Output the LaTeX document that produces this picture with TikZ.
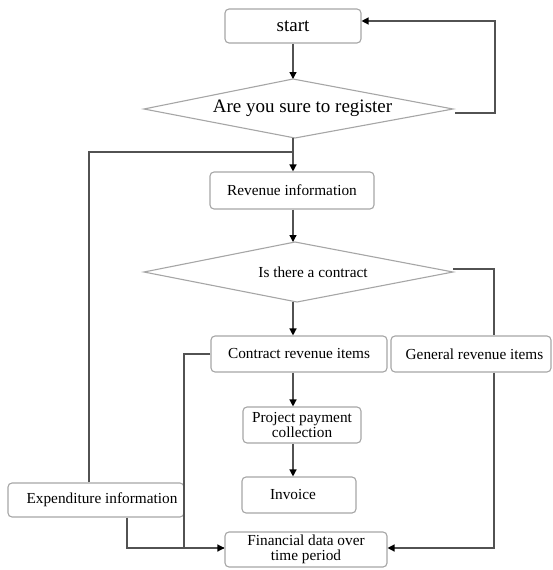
\documentclass[tikz,border=0pt]{standalone}
\usepackage{fontspec}
\setmainfont{Liberation Serif}
\usetikzlibrary{arrows.meta,calc}
\begin{document}
\begin{tikzpicture}[x=1pt,y=-1pt,
  box/.style={draw=black!35, line width=1.1pt, rounded corners=4pt, rectangle, inner sep=0pt,
              font=\fontsize{15.3}{14.5}\selectfont, align=center},
  bigtxt/.style={font=\fontsize{19}{22}\selectfont},
  smalltxt/.style={font=\fontsize{15.3}{14.5}\selectfont, inner sep=0pt},
  dia/.style={draw=black!35, line width=1.1pt},
  conn/.style={draw=black!68, line width=1.3pt},
  arr/.style={conn, -{Triangle[width=7pt,length=7pt,color=black]}}
  ]
\useasboundingbox (0,0) rectangle (552,570);
\fill[white] (0,0) rectangle (552,570);

% main column x
\coordinate (colx) at (293,0);

% boxes
\node[box, bigtxt, minimum width=136pt, minimum height=34pt] (start) at (293,26) {start};
\node[box, minimum width=164pt, minimum height=37pt] (rev) at (292,190.5) {Revenue information};
\node[box, minimum width=176pt, minimum height=36pt] (crev) at (299,354) {Contract revenue items};
\node[box, minimum width=160pt, minimum height=36pt] (grev) at (471,354) {\hspace*{7pt}General revenue items};
\node[box, minimum width=118pt, minimum height=36pt] (proj) at (302,425) {Project payment\\collection};
\node[box, minimum width=114pt, minimum height=36pt] (inv) at (299,495) {Invoice\hspace*{12pt}};
\node[box, minimum width=176pt, minimum height=34pt] (exp) at (96,500) {\hspace*{12pt}Expenditure information};
\node[box, minimum width=162pt, minimum height=35pt, align=center] (fin) at (306,549.5) {Financial data over\\time period};

% diamond 1
\coordinate (d1t) at (293,79);
\coordinate (d1r) at (453,109);
\coordinate (d1b) at (295,138);
\coordinate (d1l) at (144,109);
\draw[dia] (d1t) -- (d1r) -- (d1b) -- (d1l) -- cycle;
\node[bigtxt, inner sep=0pt] (q1) at (302.5,108) {Are you sure to register};

% diamond 2
\coordinate (d2t) at (295,242);
\coordinate (d2r) at (453,272);
\coordinate (d2b) at (297,302);
\coordinate (d2l) at (144,272);
\draw[dia] (d2t) -- (d2r) -- (d2b) -- (d2l) -- cycle;
\node[smalltxt] (q2) at (313,272) {Is there a contract};

% auxiliary points
\coordinate (d1out) at (455,113);
\coordinate (loopx) at (495,0);
\coordinate (sin) at ($(start.east)+(0,-5)$);
\coordinate (d2out) at (453,269);
\coordinate (rightx) at (494,0);
\coordinate (join) at (293,152);
\coordinate (expx) at (89,0);
\coordinate (exbx) at (127,0);
\coordinate (crx) at (184,0);
\coordinate (finy) at (0,548);

% connectors
\draw[arr] (start.south -| colx) -- (d1t -| colx);
\draw[arr] (d1out) -- (d1out -| loopx) -- (sin -| loopx) -- (sin);
\draw[arr] (d1b -| colx) -- (rev.north -| colx);
\draw[conn] (exp.north -| expx) -- (join -| expx) -- (join);
\draw[arr] (rev.south -| colx) -- (d2t -| colx);
\draw[arr] (d2b -| colx) -- (crev.north -| colx);
\draw[conn] (d2out) -- (d2out -| rightx) -- (grev.north -| rightx);
\draw[arr] (grev.south -| rightx) -- (finy -| rightx) -- (finy -| fin.east);
\draw[arr] (crev.south -| colx) -- (proj.north -| colx);
\draw[arr] (proj.south -| colx) -- (inv.north -| colx);
\draw[conn] (crev.west) -- (crev.west -| crx) -- (finy -| crx) -- (finy -| fin.west);
\draw[arr] (exp.south -| exbx) -- (finy -| exbx) -- (finy -| fin.west);
\end{tikzpicture}
\end{document}
